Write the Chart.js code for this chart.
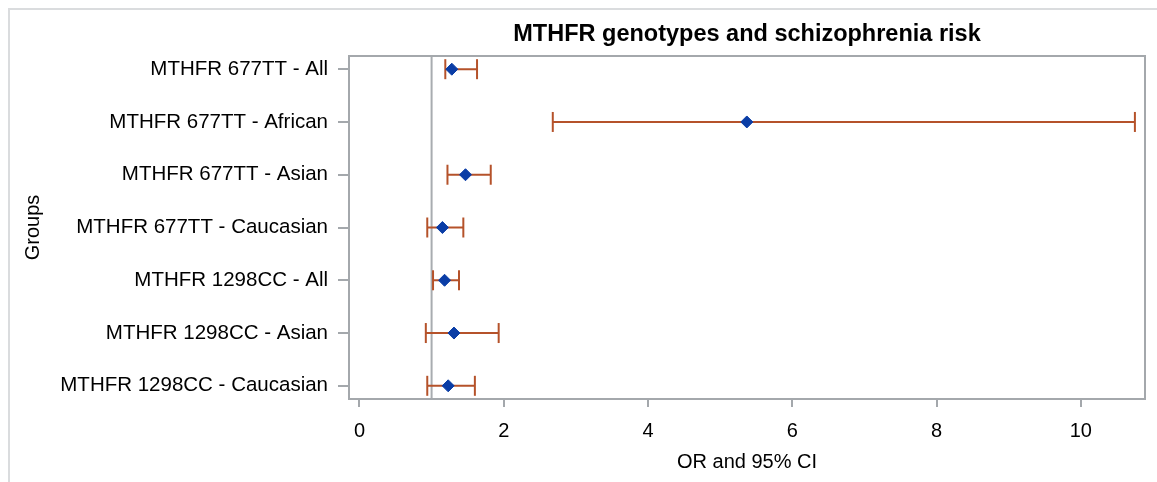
<!DOCTYPE html>
<html>
<head>
<meta charset="utf-8">
<script src="https://cdn.jsdelivr.net/npm/chart.js@4.4.1/dist/chart.umd.min.js"></script>
<style>
html,body{margin:0;padding:0;background:#fff;}
#wrap{position:relative;width:1157px;height:482px;}
</style>
</head>
<body>
<div id="wrap"><canvas id="c" width="1157" height="482"></canvas></div>
<script>
const TITLE = 'MTHFR genotypes and schizophrenia risk';
const X_TITLE = 'OR and 95% CI';
const Y_TITLE = 'Groups';
const CATEGORIES = [
  'MTHFR 677TT - All',
  'MTHFR 677TT - African',
  'MTHFR 677TT - Asian',
  'MTHFR 677TT - Caucasian',
  'MTHFR 1298CC - All',
  'MTHFR 1298CC - Asian',
  'MTHFR 1298CC - Caucasian'
];
const OR_VALUES = [1.28, 5.37, 1.47, 1.15, 1.18, 1.31, 1.23];
const CI_LOW    = [1.19, 2.68, 1.22, 0.94, 1.02, 0.92, 0.94];
const CI_HIGH   = [1.63, 10.75, 1.82, 1.44, 1.38, 1.93, 1.60];
const X_TICKS = [0, 2, 4, 6, 8, 10];
const REF_VALUE = 1;

const BAR_COLOR = '#B5522A';
const MARKER_COLOR = '#0A3DA6';
const AXIS_GRAY = '#A4A8AC';
const FONT = '"Liberation Sans", Arial, sans-serif';

const W = 1157, H = 482;
const PLOT_LEFT = 349, PLOT_TOP = 56, PLOT_BOTTOM = 399;
const PAD = {left: 10, right: 10, top: 0, bottom: 4};

const framePlugin = {
  id: 'frames',
  beforeDraw(chart) {
    const ctx = chart.ctx;
    ctx.save();
    ctx.strokeStyle = '#DADCDE';
    ctx.lineWidth = 2;
    ctx.strokeRect(9, 9, 1400, 900);
    ctx.restore();
  },
  beforeDatasetsDraw(chart) {
    const {ctx, chartArea: a, scales} = chart;
    const px = scales.x.getPixelForValue(REF_VALUE);
    ctx.save();
    ctx.strokeStyle = '#A8ACB0';
    ctx.lineWidth = 2;
    ctx.beginPath();
    ctx.moveTo(px, a.top);
    ctx.lineTo(px, a.bottom);
    ctx.stroke();
    ctx.strokeStyle = AXIS_GRAY;
    ctx.strokeRect(a.left, a.top, a.right - a.left, a.bottom - a.top);
    ctx.restore();
  }
};

const errorSets = CATEGORIES.map((c, i) => ({
  type: 'line',
  label: c,
  data: [{x: CI_LOW[i], y: i}, {x: CI_HIGH[i], y: i}],
  showLine: true,
  borderColor: BAR_COLOR,
  borderWidth: 2,
  fill: false,
  tension: 0,
  pointStyle: 'line',
  pointRadius: 10,
  pointHoverRadius: 10,
  pointRotation: 90,
  pointBorderColor: BAR_COLOR,
  pointBorderWidth: 2,
  order: 2
}));

const markerSet = {
  type: 'scatter',
  label: 'OR',
  data: OR_VALUES.map((v, i) => ({x: v, y: i})),
  pointStyle: 'rectRot',
  pointRadius: 6,
  pointHoverRadius: 6,
  backgroundColor: MARKER_COLOR,
  borderColor: MARKER_COLOR,
  borderWidth: 1,
  order: 1
};

new Chart(document.getElementById('c'), {
  type: 'scatter',
  data: {datasets: [markerSet, ...errorSets]},
  plugins: [framePlugin],
  options: {
    responsive: false,
    animation: false,
    devicePixelRatio: 1,
    layout: {padding: PAD},
    plugins: {legend: {display: false}, tooltip: {enabled: false}, title: {display: false}},
    scales: {
      x: {
        type: 'linear',
        position: 'bottom',
        min: -0.145,
        max: 10.89,
        afterBuildTicks: s => { s.ticks = X_TICKS.map(v => ({value: v})); },
        afterFit: s => { s.height = H - PAD.bottom - PLOT_BOTTOM; },
        ticks: {font: {family: FONT, size: 20}, color: '#000', padding: 12, maxRotation: 0, autoSkip: false},
        grid: {display: true, drawOnChartArea: false, drawTicks: true, tickLength: 8, color: AXIS_GRAY, lineWidth: 2},
        border: {display: false},
        title: {display: true, text: X_TITLE, font: {family: FONT, size: 20}, color: '#000', padding: {top: 0, bottom: 4}}
      },
      x2: {
        type: 'linear',
        position: 'top',
        min: -0.145,
        max: 10.89,
        afterFit: s => { s.height = PLOT_TOP - PAD.top; },
        ticks: {display: false},
        grid: {display: false},
        border: {display: false},
        title: {display: true, text: TITLE, font: {family: FONT, size: 23.5, weight: 'bold'}, color: '#000', padding: {top: 20, bottom: 0}}
      },
      y: {
        type: 'linear',
        reverse: true,
        min: -0.25,
        max: 6.25,
        afterBuildTicks: s => { s.ticks = CATEGORIES.map((c, i) => ({value: i})); },
        afterFit: s => { s.width = PLOT_LEFT - PAD.left; },
        ticks: {
          font: {family: FONT, size: 20.5},
          color: '#000',
          padding: 10,
          autoSkip: false,
          callback: (v, i) => CATEGORIES[i]
        },
        grid: {display: true, drawOnChartArea: false, drawTicks: true, tickLength: 11, color: AXIS_GRAY, lineWidth: 2},
        border: {display: false},
        title: {display: true, text: Y_TITLE, font: {family: FONT, size: 20}, color: '#000', padding: {top: 11, bottom: 0}}
      }
    }
  }
});
</script>
</body>
</html>
